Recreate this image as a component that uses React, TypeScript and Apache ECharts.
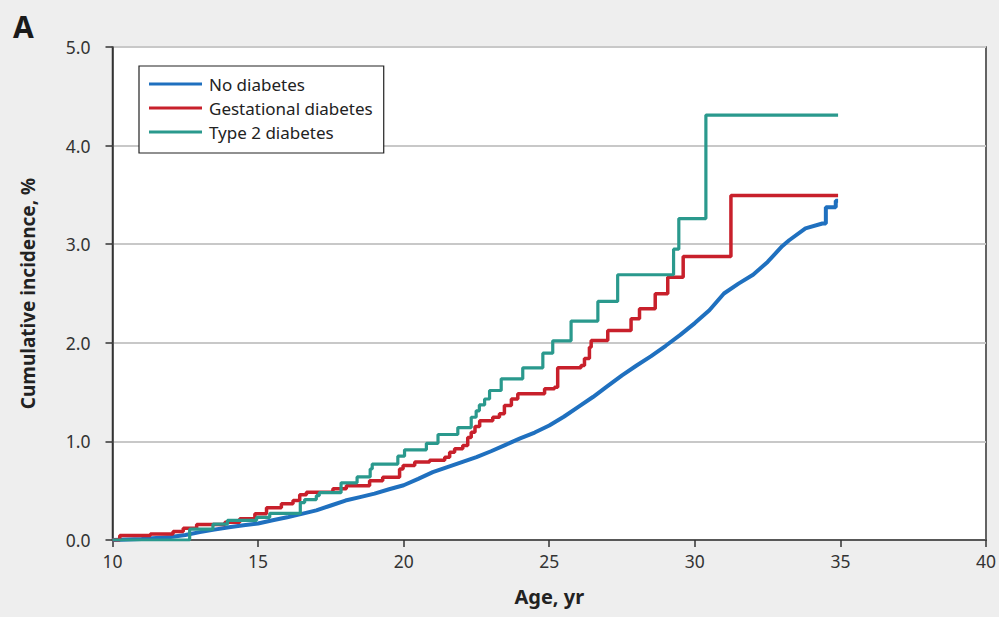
import React, { useEffect, useRef } from "react";
import * as echarts from "echarts";

const seriesNames = ["No diabetes", "Gestational diabetes", "Type 2 diabetes"];
const seriesColors = ["#1f70bf", "#c8202b", "#2a998d"];

const xTicks = [10, 15, 20, 25, 30, 35, 40];
const yTicks = [0, 1, 2, 3, 4, 5];

// No diabetes: read points along the curve (age, cumulative incidence %)
const noDiabetes: [number, number][] = [
  [10, 0], [10.5, 0.005], [11, 0.01], [11.5, 0.02], [12, 0.03], [12.5, 0.05],
  [13, 0.08], [13.5, 0.105], [14, 0.13], [14.5, 0.15], [15, 0.167], [15.5, 0.2],
  [16, 0.23], [16.5, 0.265], [17, 0.3], [17.5, 0.35], [18, 0.4], [18.5, 0.435],
  [19, 0.47], [19.5, 0.515], [20, 0.555], [20.5, 0.62], [21, 0.688], [21.5, 0.74],
  [22, 0.79], [22.5, 0.84], [23, 0.9], [23.5, 0.965], [24, 1.03], [24.5, 1.09],
  [25, 1.161], [25.5, 1.25], [26, 1.35], [26.5, 1.45], [27, 1.56], [27.5, 1.67],
  [28, 1.77], [28.5, 1.865], [29, 1.97], [29.5, 2.08], [30, 2.2], [30.5, 2.33],
  [31, 2.5], [31.5, 2.6], [32, 2.69], [32.5, 2.82], [33, 2.98], [33.24, 3.04],
  [33.8, 3.16], [34.38, 3.21], [34.5, 3.21], [34.5, 3.375], [34.84, 3.375],
  [34.84, 3.44], [34.92, 3.44],
];

// Gestational diabetes: step points (age of jump, new value)
const gestational: [number, number][] = [
  [10, 0], [10.25, 0.045], [11.3, 0.06], [12.08, 0.085], [12.43, 0.12], [12.89, 0.157],
  [13.86, 0.18], [14.37, 0.215], [14.89, 0.266], [15.29, 0.327], [15.8, 0.367],
  [16.2, 0.4], [16.43, 0.46], [16.66, 0.485], [17.57, 0.52], [18.03, 0.55],
  [18.83, 0.6], [19.28, 0.637], [19.86, 0.72], [19.98, 0.756], [20.38, 0.79],
  [20.89, 0.81], [21.41, 0.84], [21.58, 0.89], [21.75, 0.925], [22.03, 0.958],
  [22.2, 1.04], [22.32, 1.093], [22.45, 1.15], [22.61, 1.21], [23.06, 1.245],
  [23.29, 1.28], [23.46, 1.364], [23.7, 1.43], [23.92, 1.483], [24.84, 1.533],
  [25.18, 1.55], [25.29, 1.746], [26.09, 1.77], [26.21, 1.84], [26.38, 1.955],
  [26.44, 2.023], [27.01, 2.125], [27.81, 2.243], [28.1, 2.345], [28.64, 2.497],
  [29.07, 2.665], [29.6, 2.875], [31.24, 3.494], [34.92, 3.494],
];

// Type 2 diabetes: step points (age of jump, new value)
const type2: [number, number][] = [
  [10, 0], [12.65, 0.11], [13.45, 0.16], [13.95, 0.2], [14.95, 0.23], [15.4, 0.27],
  [16.45, 0.38], [16.6, 0.41], [17.0, 0.45], [17.1, 0.48], [17.85, 0.58],
  [18.4, 0.64], [18.85, 0.72], [18.92, 0.77], [19.8, 0.85], [20.03, 0.915],
  [20.78, 0.98], [21.18, 1.07], [21.86, 1.14], [22.32, 1.245], [22.49, 1.31],
  [22.6, 1.37], [22.78, 1.43], [22.95, 1.516], [23.35, 1.635], [24.09, 1.746],
  [24.78, 1.895], [25.12, 2.02], [25.75, 2.22], [26.67, 2.42], [27.35, 2.69],
  [29.27, 2.95], [29.45, 3.26], [30.38, 4.31], [34.92, 4.31],
];

const FONT = "Noto Sans";

export default function App() {
  const ref = useRef<HTMLDivElement>(null);
  useEffect(() => {
    if (!ref.current) return;
    const chart = echarts.init(ref.current, null, { renderer: "svg" });
    const datasets = [noDiabetes, gestational, type2];
    const widths = [4, 3.5, 3.2];
    const steps: any[] = [false, "end", "end"];
    chart.setOption({
      animation: false,
      backgroundColor: "#eeeeee",
      textStyle: { fontFamily: FONT },
      title: {
        text: "A",
        left: 8,
        top: 6,
        textStyle: { fontFamily: FONT, fontSize: 30, fontWeight: "bold", color: "#1a1a1a" },
      },
      grid: {
        left: 112.5,
        right: 12,
        top: 47,
        bottom: 77,
        show: true,
        backgroundColor: "#ffffff",
        borderColor: "#333333",
        borderWidth: 1.5,
      },
      legend: {
        orient: "vertical",
        left: 139,
        top: 66,
        padding: [9, 11, 12, 10],
        backgroundColor: "#ffffff",
        borderColor: "#222222",
        borderWidth: 1.2,
        itemWidth: 53,
        itemHeight: 3,
        itemGap: 6,
        icon: "rect",
        data: seriesNames,
        textStyle: { fontFamily: FONT, fontSize: 17, color: "#222222", lineHeight: 18, padding: [0, 0, 0, 2] },
      },
      xAxis: {
        type: "value",
        min: 10,
        max: 40,
        interval: 5,
        name: "Age, yr",
        nameLocation: "middle",
        nameGap: 46,
        nameTextStyle: { fontFamily: FONT, fontSize: 20, fontWeight: "bold", color: "#222222" },
        axisLine: { show: true, lineStyle: { color: "#333333", width: 1.5 } },
        axisTick: { show: true, length: 7, lineStyle: { color: "#333333", width: 1.5 } },
        axisLabel: {
          fontFamily: FONT, fontSize: 17.5, color: "#333333", margin: 12,
          formatter: (v: number) => (xTicks.includes(v) ? String(v) : ""),
        },
        splitLine: { show: false },
      },
      yAxis: {
        type: "value",
        min: 0,
        max: 5,
        interval: 1,
        name: "Cumulative incidence, %",
        nameLocation: "middle",
        nameGap: 75,
        nameTextStyle: { fontFamily: FONT, fontSize: 19, fontWeight: "bold", color: "#222222" },
        axisLine: { show: true, lineStyle: { color: "#333333", width: 1.5 } },
        axisTick: { show: true, length: 7, lineStyle: { color: "#333333", width: 1.5 } },
        axisLabel: {
          fontFamily: FONT, fontSize: 17.5, color: "#333333", margin: 22,
          formatter: (v: number) => (yTicks.includes(v) ? v.toFixed(1) : ""),
        },
        splitLine: { show: true, lineStyle: { color: "#c8c8c8", width: 2 } },
      },
      series: seriesNames.map((name, i) => ({
        name,
        type: "line",
        step: steps[i],
        data: datasets[i],
        showSymbol: false,
        symbol: "none",
        lineStyle: { color: seriesColors[i], width: widths[i] },
        itemStyle: { color: seriesColors[i] },
        z: i === 0 ? 2 : i === 1 ? 3 : 4,
      })),
    });
    return () => chart.dispose();
  }, []);
  return (
    <div
      ref={ref}
      style={{ position: "fixed", left: 0, top: 0, width: 999, height: 617 }}
    />
  );
}
